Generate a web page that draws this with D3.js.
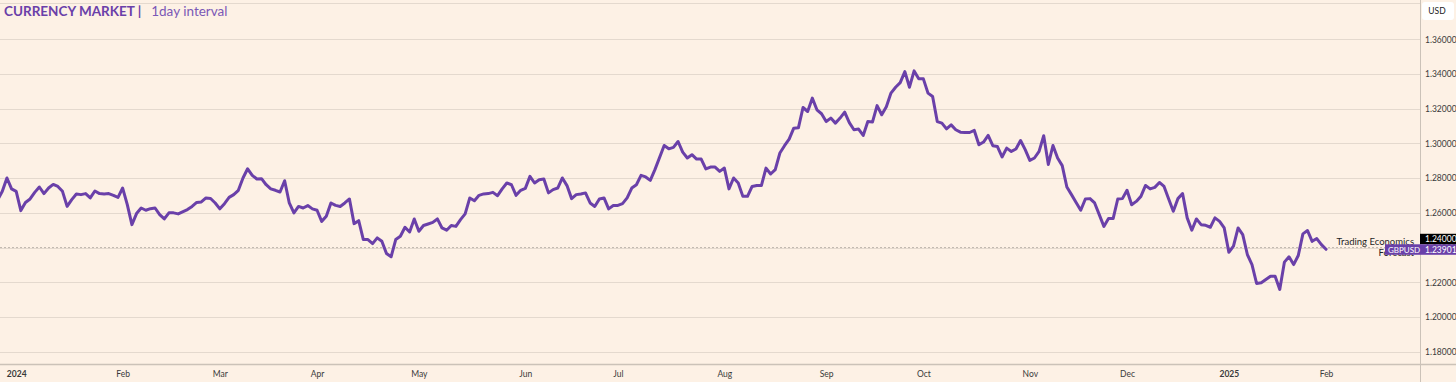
<!DOCTYPE html>
<html>
<head>
<meta charset="utf-8">
<script src="https://cdn.jsdelivr.net/npm/d3@7/dist/d3.min.js"></script>
<style>
  body { margin: 0; background: #fdf1e5; }
  svg { display: block; font-family: Lato, "Open Sans", sans-serif; }
</style>
</head>
<body>
<div id="chart"></div>
<script>
// GBPUSD daily closes, one per trading session (session 0 = 1 Jan 2024)
var firstSession = -4;
var missingSessions = [36, 139];
var closes = [
  1.2675, 1.2724, 1.2801, 1.2738, 1.2724, 1.2613, 1.2660, 1.2680, 1.2718, 1.2749,
  1.2711, 1.2743, 1.2764, 1.2752, 1.2724, 1.2637, 1.2676, 1.2709, 1.2705, 1.2711,
  1.2686, 1.2726, 1.2711, 1.2709, 1.2711, 1.2701, 1.2689, 1.2743, 1.2647, 1.2532,
  1.2596, 1.2628, 1.2615, 1.2624, 1.2628, 1.2590, 1.2565, 1.2600, 1.2600, 1.2594,
  1.2619, 1.2637, 1.2660, 1.2663, 1.2686, 1.2683, 1.2657, 1.2623, 1.2653, 1.2689,
  1.2705, 1.2730, 1.2801, 1.2854, 1.2816, 1.2795, 1.2797, 1.2762, 1.2738, 1.2730,
  1.2720, 1.2785, 1.2657, 1.2600, 1.2637, 1.2628, 1.2642, 1.2623, 1.2615, 1.2551,
  1.2580, 1.2657, 1.2643, 1.2637, 1.2657, 1.2680, 1.2538, 1.2555, 1.2446, 1.2446,
  1.2423, 1.2456, 1.2436, 1.2366, 1.2347, 1.2446, 1.2465, 1.2517, 1.2490, 1.2565,
  1.2494, 1.2527, 1.2536, 1.2545, 1.2565, 1.2513, 1.2500, 1.2527, 1.2522, 1.2561,
  1.2594, 1.2686, 1.2670, 1.2701, 1.2709, 1.2711, 1.2718, 1.2699, 1.2738, 1.2772,
  1.2762, 1.2701, 1.2730, 1.2741, 1.2810, 1.2772, 1.2791, 1.2795, 1.2715, 1.2734,
  1.2743, 1.2801, 1.2757, 1.2682, 1.2705, 1.2709, 1.2715, 1.2657, 1.2637, 1.2680,
  1.2686, 1.2623, 1.2642, 1.2643, 1.2653, 1.2686, 1.2743, 1.2762, 1.2816, 1.2807,
  1.2787, 1.2849, 1.2988, 1.2969, 1.2977, 1.3011, 1.2950, 1.2916, 1.2935, 1.2910,
  1.2910, 1.2853, 1.2864, 1.2864, 1.2839, 1.2858, 1.2738, 1.2801, 1.2772, 1.2695,
  1.2695, 1.2752, 1.2758, 1.2757, 1.2858, 1.2824, 1.2849, 1.2945, 1.2987, 1.3025,
  1.3088, 1.3090, 1.3207, 1.3184, 1.3261, 1.3194, 1.3171, 1.3126, 1.3146, 1.3117,
  1.3146, 1.3180, 1.3120, 1.3079, 1.3083, 1.3046, 1.3126, 1.3123, 1.3218, 1.3165,
  1.3212, 1.3290, 1.3324, 1.3350, 1.3414, 1.3324, 1.3418, 1.3372, 1.3372, 1.3290,
  1.3270, 1.3126, 1.3117, 1.3084, 1.3107, 1.3079, 1.3065, 1.3063, 1.3063, 1.3075,
  1.2992, 1.3008, 1.3046, 1.2987, 1.2982, 1.2922, 1.2973, 1.2954, 1.2968, 1.3017,
  1.2964, 1.2902, 1.2916, 1.2954, 1.3044, 1.2879, 1.2988, 1.2916, 1.2872, 1.2749,
  1.2705, 1.2660, 1.2615, 1.2680, 1.2682, 1.2657, 1.2590, 1.2522, 1.2567, 1.2567,
  1.2680, 1.2682, 1.2730, 1.2647, 1.2666, 1.2695, 1.2758, 1.2738, 1.2747, 1.2775,
  1.2752, 1.2680, 1.2609, 1.2682, 1.2711, 1.2571, 1.2500, 1.2565, 1.2532, 1.2528,
  1.2517, 1.2571, 1.2551, 1.2513, 1.2373, 1.2408, 1.2513, 1.2475, 1.2360, 1.2302,
  1.2193, 1.2197, 1.2216, 1.2235, 1.2235, 1.2159, 1.2316, 1.2347, 1.2302, 1.2354,
  1.2479, 1.2498, 1.2436, 1.2452, 1.2417, 1.2390
];
var lastPrice = 1.23901;
var markerPrice = 1.24;

var monthLabels = ["2024", "Feb", "Mar", "Apr", "May", "Jun", "Jul", "Aug", "Sep", "Oct", "Nov", "Dec", "2025", "Feb"];
var monthSessions = [0, 23, 44, 65, 87, 110, 130, 153, 175, 196, 219, 240, 262, 283];
var yTicks = [1.18, 1.20, 1.22, 1.24, 1.26, 1.28, 1.30, 1.32, 1.34, 1.36];

// build session / close pairs
var data = [];
var s = firstSession;
closes.forEach(function(c) {
  while (missingSessions.indexOf(s) >= 0) s++;
  data.push({ session: s, close: c });
  s++;
});

var width = 1456, height = 382,
    plotRight = 1420, axisY = 364;

var svg = d3.select("#chart")
    .append("svg")
    .attr("width", width)
    .attr("height", height);

var x = d3.scaleLinear().domain([-3.5, 303.3]).range([0, plotRight]),
    y = d3.scaleLinear().domain([1.18, 1.36]).range([351.7, 39.3]);

svg.append("rect")
    .attr("width", width)
    .attr("height", height)
    .attr("fill", "#fdf1e5");

// grid
svg.append("g")
  .selectAll("line")
  .data(yTicks)
  .enter().append("line")
    .attr("x1", 0)
    .attr("x2", plotRight)
    .attr("y1", function(d) { return Math.round(y(d)) + 0.5; })
    .attr("y2", function(d) { return Math.round(y(d)) + 0.5; })
    .attr("stroke", "#e4d9ce")
    .attr("stroke-width", 1);

svg.append("line")
    .attr("x1", 0).attr("x2", plotRight)
    .attr("y1", 3.5).attr("y2", 3.5)
    .attr("stroke", "#e4d9ce");

// price line at 1.24
svg.append("line")
    .attr("x1", 0).attr("x2", plotRight)
    .attr("y1", y(markerPrice)).attr("y2", y(markerPrice))
    .attr("stroke", "#bfb6ad")
    .attr("stroke-dasharray", "2,2");

svg.append("clipPath")
    .attr("id", "plot-clip")
  .append("rect")
    .attr("width", plotRight)
    .attr("height", axisY);

var line = d3.line()
    .x(function(d) { return x(d.session); })
    .y(function(d) { return y(d.close); });

svg.append("path")
    .datum(data)
    .attr("clip-path", "url(#plot-clip)")
    .attr("fill", "none")
    .attr("stroke", "#6a40a9")
    .attr("stroke-width", 3)
    .attr("stroke-linejoin", "round")
    .attr("stroke-linecap", "round")
    .attr("d", line);

// source note, partly under the price label
var note = svg.append("g")
    .attr("font-size", "9.5px")
    .attr("fill", "#1f1f1f")
    .attr("text-anchor", "end");
note.append("text").attr("x", 1414).attr("y", 245).text("Trading Economics");
note.append("text").attr("x", 1414).attr("y", 256).text("Forecast");

// frame lines
svg.append("line")
    .attr("x1", 0).attr("x2", width)
    .attr("y1", axisY + 0.5).attr("y2", axisY + 0.5)
    .attr("stroke", "#cbc2b8")
    .attr("stroke-width", 1.5);

svg.append("line")
    .attr("x1", plotRight + 0.5).attr("x2", plotRight + 0.5)
    .attr("y1", 0).attr("y2", height)
    .attr("stroke", "#cbc2b8");

// axes
var xAxis = svg.append("g")
    .attr("class", "axis axis--x")
    .attr("transform", "translate(0," + axisY + ")")
    .call(d3.axisBottom(x)
        .tickValues(monthSessions)
        .tickSize(0)
        .tickPadding(6.5)
        .tickFormat(function(d, i) { return monthLabels[i]; }));
xAxis.select(".domain").remove();
xAxis.selectAll("text")
    .attr("font-family", "Lato, sans-serif")
    .attr("font-size", "8.5px")
    .attr("fill", "#3a3a3a")
    .attr("font-weight", function(d, i) { return /^\d/.test(monthLabels[i]) ? "bold" : "normal"; });

var yAxis = svg.append("g")
    .attr("class", "axis axis--y")
    .attr("transform", "translate(" + plotRight + ",0)")
    .call(d3.axisRight(y)
        .tickValues(yTicks)
        .tickSize(0)
        .tickPadding(5)
        .tickFormat(d3.format(".5f")));
yAxis.select(".domain").remove();
yAxis.selectAll("text")
    .attr("font-family", "Lato, sans-serif")
    .attr("font-size", "8.5px")
    .attr("fill", "#3a3a3a");

// currency badge
svg.append("rect")
    .attr("x", 1422).attr("y", 2)
    .attr("width", 32).attr("height", 18)
    .attr("rx", 3)
    .attr("fill", "#ffffff");
svg.append("text")
    .attr("x", 1437).attr("y", 14)
    .attr("text-anchor", "middle")
    .attr("font-size", "8.5px")
    .attr("fill", "#222")
    .text("USD");

// price labels
var yLast = y(lastPrice);
svg.append("rect")
    .attr("x", plotRight).attr("y", yLast - 15.5)
    .attr("width", width - plotRight).attr("height", 10.5)
    .attr("fill", "#000");
svg.append("text")
    .attr("x", plotRight + 5).attr("y", yLast - 7)
    .attr("font-size", "8.5px")
    .attr("fill", "#fff")
    .text(d3.format(".5f")(markerPrice));

svg.append("rect")
    .attr("x", 1385).attr("y", yLast - 5)
    .attr("width", width - 1385).attr("height", 10.5)
    .attr("fill", "#6a40a9");
svg.append("text")
    .attr("x", 1388).attr("y", yLast + 3.5)
    .attr("font-size", "8px")
    .attr("fill", "#fff")
    .text("GBPUSD");
svg.append("text")
    .attr("x", plotRight + 5).attr("y", yLast + 3.5)
    .attr("font-size", "8.5px")
    .attr("fill", "#fff")
    .text(d3.format(".5f")(lastPrice));

// title
var title = svg.append("text")
    .attr("x", 4).attr("y", 16)
    .attr("font-size", "13.5px");
title.append("tspan")
    .attr("font-weight", "bold")
    .attr("fill", "#6a40a9")
    .text("CURRENCY MARKET  |");
title.append("tspan")
    .attr("dx", 10)
    .attr("fill", "#7a58b6")
    .text("1day interval");
</script>
</body>
</html>
